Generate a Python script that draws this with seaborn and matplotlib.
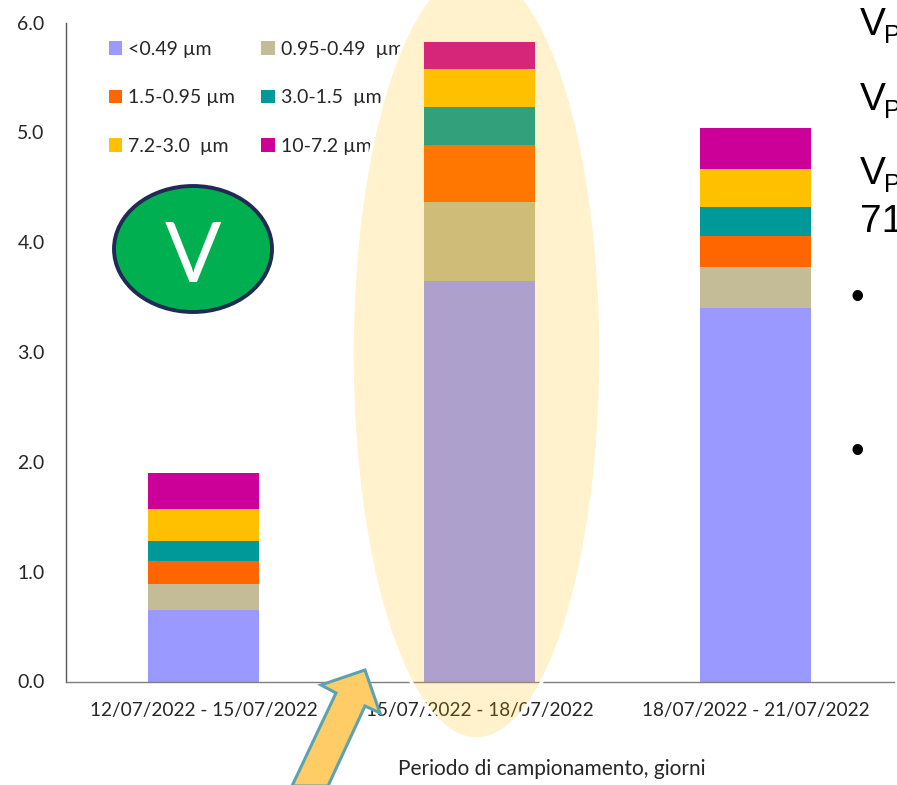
"""Stacked volume by size fraction for the three July 2022 sampling periods."""

import matplotlib.pyplot as plt
import numpy as np
import seaborn as sns
from matplotlib.patches import Ellipse, Polygon
from matplotlib.transforms import Affine2D

W, H = 897, 785

PERIODS = ["12/07/2022 - 15/07/2022", "15/07/2022 - 18/07/2022", "18/07/2022 - 21/07/2022"]
FRACTIONS = ["<0.49 µm", "0.95-0.49  µm", "1.5-0.95 µm", "3.0-1.5  µm", "7.2-3.0  µm", "10-7.2 µm"]
COLORS = ["#9999FF", "#C4BC96", "#FF6600", "#009999", "#FFC000", "#CC0099"]

LT_049 = [0.65, 3.65, 3.40]
F_095 = [0.235, 0.715, 0.37]
F_15 = [0.215, 0.52, 0.29]
F_30 = [0.175, 0.345, 0.26]
F_72 = [0.30, 0.345, 0.35]
F_10 = [0.325, 0.245, 0.37]
SERIES = [LT_049, F_095, F_15, F_30, F_72, F_10]

sns.set_theme(style="white")
plt.rcParams["font.family"] = ["Lato", "DejaVu Sans"]

fig = plt.figure(figsize=(W / 100, H / 100), dpi=100)
ax = fig.add_axes([65.5 / W, 1 - 681.5 / H, (894 - 65.5) / W, (681.5 - 22.5) / H])

# pixel coordinates of the reference, y pointing down, for the pasted shapes
px = Affine2D().scale(1 / W, -1 / H).translate(0, 1) + fig.transFigure

bottom = np.zeros(len(PERIODS))
for name, vals, color in zip(FRACTIONS, SERIES, COLORS):
    sns.barplot(x=PERIODS, y=vals, bottom=bottom, color=color, saturation=1,
                width=0.402, label=name, linewidth=0, zorder=2, ax=ax)
    bottom += np.array(vals)

ax.set_xlim(-0.5, 2.5)
ax.set_ylim(0, 6)
ax.set_yticks(np.arange(0, 7))
ax.set_yticklabels([f"{v:.1f}" for v in np.arange(0, 7)])
ax.set_axisbelow(False)
ax.tick_params(axis="y", length=0, pad=15, labelsize=14, labelcolor="#262626")
ax.tick_params(axis="x", length=0, pad=15, labelsize=13.7, labelcolor="#262626")
sns.despine(ax=ax, right=True, top=True)
ax.spines["left"].set_color("#595959")
ax.spines["bottom"].set_color("#7f7f7f")
ax.spines["left"].set_linewidth(1.0)
ax.spines["bottom"].set_linewidth(1.0)
ax.set_xlabel("Periodo di campionamento, giorni", fontsize=15, color="#262626")
ax.set_ylabel("")
ax.xaxis.set_label_coords(552 / W, 1 - 769 / H, transform=fig.transFigure)
ax.xaxis.label.set_verticalalignment("center")

# legend filled column by column, hidden behind the ellipse's white mask
handles, labels = ax.get_legend_handles_labels()
order = [0, 2, 4, 1, 3, 5]
leg = ax.legend([handles[i] for i in order], [labels[i] for i in order], ncol=2,
                loc="upper left", bbox_to_anchor=(109, 41), bbox_transform=px,
                frameon=False, fontsize=14, handlelength=0.69, handleheight=0.69,
                handletextpad=0.3, labelspacing=1.62, columnspacing=1.35,
                borderpad=0, borderaxespad=0, labelcolor="#262626")
leg.set_zorder(1)

mask = Ellipse((476.5, 354), 249, 770, transform=px, facecolor="white",
               edgecolor="none", zorder=1.5, clip_on=False)
ax.add_patch(mask)

fig.add_artist(Ellipse((476.5, 354), 249, 770, transform=px,
                       facecolor=(1, 0.753, 0, 0.2), edgecolor="white",
                       linewidth=2.5, zorder=5))

fig.add_artist(Ellipse((193, 249), 158, 126, transform=px, facecolor="#00B050",
                       edgecolor="#1F2A55", linewidth=2.8, zorder=3))
fig.text(193, 282, "V", transform=px, color="white", fontsize=60,
         ha="center", va="baseline", zorder=4)

arrow = [(365, 670), (321, 685), (336, 693), (292, 786), (328, 786), (365, 706), (380, 713)]
fig.add_artist(Polygon(arrow, closed=True, transform=px, facecolor="#FFCC66",
                       edgecolor="#5BA3B0", linewidth=2.2, zorder=6))

# slide text running off the right edge
for base in [35, 110, 184]:
    fig.text(860, base, "V", transform=px, fontsize=28, color="black",
             family="Liberation Sans", ha="left", va="baseline")
    fig.text(884, base + 8, "P", transform=px, fontsize=18, color="black",
             family="Liberation Sans", ha="left", va="baseline")
fig.text(860, 232, "71", transform=px, fontsize=28, color="black",
         family="Liberation Sans", ha="left", va="baseline")
for y in [299, 453]:
    fig.text(857, y, "•", transform=px, fontsize=28, color="black",
             family="Liberation Sans", ha="center", va="center")

fig.savefig("out.png", dpi=100)
plt.close(fig)
